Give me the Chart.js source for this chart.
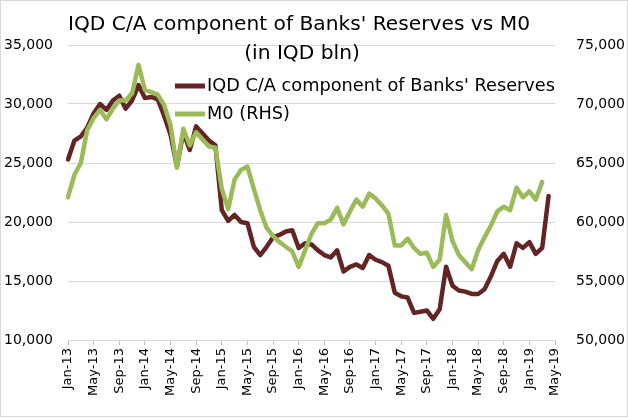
<!DOCTYPE html>
<html>
<head>
<meta charset="utf-8">
<script src="https://cdn.jsdelivr.net/npm/chart.js@4.4.1/dist/chart.umd.min.js"></script>
<style>
    html, body { margin: 0; padding: 0; background: #fff; }
    canvas { display: block; }
</style>
</head>
<body>
<canvas id="grafico" width="628" height="418"></canvas>
<script>
    // meses de Jan-13 a May-19
    const meses = ['Jan', 'Feb', 'Mar', 'Apr', 'May', 'Jun', 'Jul', 'Aug', 'Sep', 'Oct', 'Nov', 'Dec'];
    const categorias = [];
    for (let a = 13; a <= 19; a++) {
        for (let m = 0; m < 12; m++) {
            if (a === 19 && m > 4) break;
            categorias.push(meses[m] + '-' + a);
        }
    }

    // IQD C/A component of Banks' Reserves (eixo esquerdo, IQD bln)
    const reservas = [
        25300, 26900, 27250, 28000, 29200, 30000, 29500, 30300, 30700, 29600, 30300, 31600,
        30500, 30600, 30400, 29000, 27400, 24700, 27600, 26100, 28100, 27500, 26900, 26500,
        21000, 20100, 20600, 20000, 19900, 17900, 17200, 17900, 18700, 18900, 19200, 19300,
        17800, 18200, 18100, 17600, 17200, 17000, 17600, 15800, 16200, 16400, 16100, 17200,
        16800, 16600, 16300, 14000, 13700, 13600, 12300, 12400, 12500, 11800, 12600, 16200,
        14600, 14200, 14100, 13900, 13900, 14300, 15400, 16700, 17300, 16200, 18200, 17800,
        18300, 17300, 17800, 22200
    ];

    // M0 (eixo direito)
    const m0 = [
        62100, 64000, 65000, 67800, 68800, 69500, 68700, 69600, 70300, 70300, 70900, 73300,
        71200, 71000, 70800, 69900, 68200, 64600, 67900, 66500, 67600, 67000, 66400, 66300,
        62800, 61100, 63600, 64400, 64700, 62800, 61000, 59500, 58800, 58300, 57900, 57500,
        56200, 57600, 59000, 59900, 59900, 60200, 61200, 59800, 60900, 61900, 61300, 62400,
        62000, 61400, 60700, 58000, 58000, 58600, 57800, 57300, 57400, 56200, 56800, 60600,
        58400, 57200, 56600, 56000, 57600, 58700, 59700, 60900, 61300, 61000, 62900, 62100,
        62600, 61900, 63400
    ];

    const tituloLinhas = ["IQD C/A component of Banks' Reserves vs M0", '(in IQD bln)'];
    const nomesSeries = ["IQD C/A component of Banks' Reserves", 'M0 (RHS)'];
    const cores = ['#632523', '#9BBB59'];

    const fonte = 'DejaVu Sans';

    // desenha texto com escala horizontal (a fonte original é estreita, tipo Tahoma)
    function textoEscalado(ctx, txt, x, y, escala) {
        ctx.save();
        ctx.translate(x, y);
        ctx.scale(escala, 1);
        ctx.fillText(txt, 0, 0);
        ctx.restore();
    }

    const fundoEBorda = {
        id: 'fundoEBorda',
        beforeDraw(chart) {
            const ctx = chart.ctx;
            ctx.save();
            ctx.fillStyle = '#fff';
            ctx.fillRect(0, 0, chart.width, chart.height);
            ctx.strokeStyle = '#d9d9d9';
            ctx.lineWidth = 1;
            ctx.strokeRect(0.5, 0.5, chart.width - 1, chart.height - 2);
            ctx.restore();
        }
    };

    const tituloELegenda = {
        id: 'tituloELegenda',
        afterDatasetsDraw(chart) {
            const ctx = chart.ctx;
            ctx.save();
            ctx.fillStyle = '#000';
            ctx.textBaseline = 'middle';

            // título: primeira linha ocupa de x=68 a x=530
            ctx.font = '20px "' + fonte + '"';
            ctx.textAlign = 'center';
            const escT = 462 / ctx.measureText(tituloLinhas[0]).width;
            textoEscalado(ctx, tituloLinhas[0], 299, 25, escT);
            textoEscalado(ctx, tituloLinhas[1], 302, 54, escT);

            // legenda dentro da área do gráfico, texto de x=207 a x=555
            ctx.font = '18px "' + fonte + '"';
            ctx.textAlign = 'left';
            const escL = 348 / ctx.measureText(nomesSeries[0]).width;
            nomesSeries.forEach((nome, i) => {
                const y = 86 + i * 28;
                ctx.strokeStyle = cores[i];
                ctx.lineWidth = 5;
                ctx.lineCap = 'butt';
                ctx.beginPath();
                ctx.moveTo(175, y);
                ctx.lineTo(205, y);
                ctx.stroke();
                textoEscalado(ctx, nome, 207, y, escL);
            });
            ctx.restore();
        }
    };

    const formatar = v => v.toLocaleString('en-US');

    new Chart(document.getElementById('grafico'), {
        type: 'line',
        data: {
            labels: categorias,
            datasets: [{
                label: nomesSeries[0],
                data: reservas,
                yAxisID: 'y',
                borderColor: cores[0],
                borderWidth: 4.5,
                order: 2
            }, {
                label: nomesSeries[1],
                data: m0,
                yAxisID: 'y1',
                borderColor: cores[1],
                borderWidth: 4.5,
                order: 1
            }]
        },
        options: {
            responsive: false,
            animation: false,
            layout: { padding: { top: 45, left: 0, right: 0, bottom: 0 } },
            elements: {
                point: { radius: 0 },
                line: { tension: 0, borderJoinStyle: 'round', borderCapStyle: 'round' }
            },
            plugins: {
                legend: { display: false },
                title: { display: false },
                tooltip: { enabled: false }
            },
            scales: {
                x: {
                    offset: false,
                    grid: { drawOnChartArea: false, drawTicks: true, tickLength: 5, color: '#bfbfbf' },
                    border: { display: true, color: '#d9d9d9' },
                    ticks: {
                        autoSkip: false,
                        minRotation: 90,
                        maxRotation: 90,
                        padding: 3,
                        color: '#000',
                        font: { family: fonte, size: 13 },
                        callback: function (v, i) {
                            return i % 4 === 0 ? this.getLabelForValue(v) : null;
                        }
                    },
                    afterFit: s => { s.height = 78; }
                },
                y: {
                    position: 'left',
                    min: 10000,
                    max: 35000,
                    grid: { color: '#d9d9d9', drawTicks: false },
                    border: { display: false },
                    ticks: {
                        stepSize: 5000,
                        padding: 15,
                        color: '#000',
                        font: { family: fonte, size: 14 },
                        callback: formatar
                    },
                    afterFit: s => { s.width = 68; }
                },
                y1: {
                    position: 'right',
                    min: 50000,
                    max: 75000,
                    grid: { drawOnChartArea: false, drawTicks: false },
                    border: { display: false },
                    ticks: {
                        stepSize: 5000,
                        padding: 21,
                        color: '#000',
                        font: { family: fonte, size: 14 },
                        callback: formatar
                    },
                    afterFit: s => { s.width = 73; }
                }
            }
        },
        plugins: [fundoEBorda, tituloELegenda]
    });
</script>
</body>
</html>
